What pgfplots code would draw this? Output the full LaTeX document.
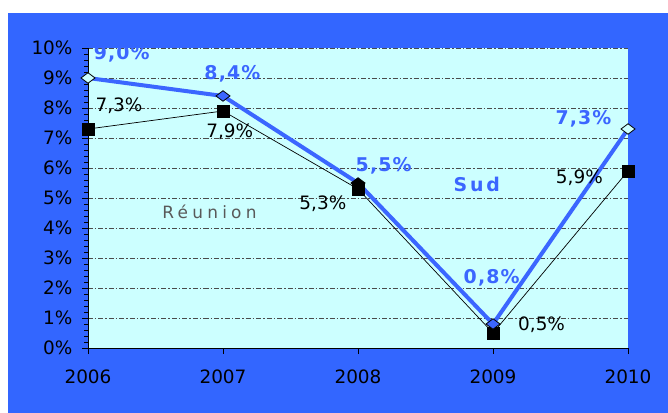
\documentclass[border=0pt]{standalone}
\usepackage{pgfplots}
\pgfplotsset{compat=1.18}
\usepackage{fontspec}
\setmainfont{DejaVu Sans}
\newfontfamily\sudfont[LetterSpace=6]{DejaVu Sans Bold}
\newfontfamily\sudtitle[LetterSpace=15]{DejaVu Sans Bold}
\newfontfamily\reufont[LetterSpace=25]{DejaVu Sans}
\definecolor{bgblue}{HTML}{3366FF}
\definecolor{cyanbg}{HTML}{CCFFFF}
\definecolor{sudblue}{HTML}{3B66FF}
\definecolor{gridgray}{HTML}{4A4A4A}
\begin{document}
\begin{tikzpicture}
\fill[white] (-88bp,-65bp) rectangle (580bp,348bp);
\fill[bgblue] (-80bp,-65bp) rectangle (580bp,335bp);
\begin{axis}[
  at={(0,0)}, anchor=south west,
  scale only axis, width=540bp, height=300bp,
  xmin=2006, xmax=2010, ymin=0, ymax=10,
  xtick={2006,2007,2008,2009,2010},
  xticklabels={2006,2007,2008,2009,2010},
  ytick={0,1,...,10},
  minor y tick num=4,
  yticklabel={\pgfmathprintnumber{\tick}\%},
  /pgf/number format/assume math mode=true,
  axis background/.style={fill=cyanbg},
  axis x line*=bottom, axis y line*=left,
  axis line style={black, line width=0.9bp},
  ymajorgrids,
  major grid style={gridgray, line width=0.8bp, dash pattern=on 5bp off 2bp on 1.5bp off 2bp},
  tick align=outside,
  major tick length=6bp, minor tick length=4bp,
  tick style={black, line width=0.8bp},
  ticklabel style={font=\fontsize{18.5}{20}\selectfont, text=black},
  yticklabel style={xshift=-6bp},
  xticklabel style={yshift=-12bp},
]
% Réunion line
\addplot[black, line width=0.7bp, mark=none] coordinates {
  (2006,7.3) (2007,7.9) (2008,5.3) (2009,0.5) (2010,5.9)};
% Sud line
\addplot[sudblue, line width=4bp, mark=none] coordinates {
  (2006,9.0) (2007,8.4) (2008,5.5) (2009,0.8) (2010,7.3)};
% Réunion markers
\addplot[only marks, mark=square*, mark size=6bp, mark options={fill=black, draw=black}] coordinates {
  (2006,7.3) (2007,7.9) (2008,5.3) (2009,0.5) (2010,5.9)};
% Sud markers
\addplot[only marks, mark=diamond*, mark size=7bp, mark options={rotate=90, fill=cyanbg, draw=black, line width=0.8bp}] coordinates {
  (2006,9.0) (2010,7.3)};
\addplot[only marks, mark=diamond*, mark size=7bp, mark options={rotate=90, fill=sudblue, draw=black, line width=0.8bp}] coordinates {
  (2007,8.4) (2009,0.8)};
\addplot[only marks, mark=diamond*, mark size=7bp, mark options={rotate=90, fill=black, draw=black, line width=0.8bp}] coordinates {
  (2008,5.5)};
% Sud labels
\begin{scope}[every node/.style={font=\sudfont\fontsize{19}{21}\selectfont, text=sudblue, inner sep=0pt}]
\node at (axis cs:2006.25,9.80) {9,0\%};
\node at (axis cs:2007.07,9.13) {8,4\%};
\node at (axis cs:2008.19,6.07) {5,5\%};
\node at (axis cs:2008.99,2.33) {0,8\%};
\node at (axis cs:2009.67,7.63) {7,3\%};
\end{scope}
% Réunion labels
\begin{scope}[every node/.style={font=\fontsize{18.5}{20}\selectfont, text=black, inner sep=0pt}]
\node at (axis cs:2006.23,8.07) {7,3\%};
\node at (axis cs:2007.05,7.20) {7,9\%};
\node at (axis cs:2007.74,4.80) {5,3\%};
\node at (axis cs:2009.36,0.77) {0,5\%};
\node at (axis cs:2009.64,5.67) {5,9\%};
\end{scope}
\node[font=\reufont\fontsize{17}{19}\selectfont, text=black!65, inner sep=0pt] at (axis cs:2006.90,4.53) {Réunion};
\node[font=\sudtitle\fontsize{19}{21}\selectfont, text=sudblue, inner sep=0pt] at (axis cs:2008.88,5.45) {Sud};
\end{axis}
\fill[bgblue] (0.6bp,300.5bp) rectangle (540bp,320bp);
\end{tikzpicture}
\end{document}
